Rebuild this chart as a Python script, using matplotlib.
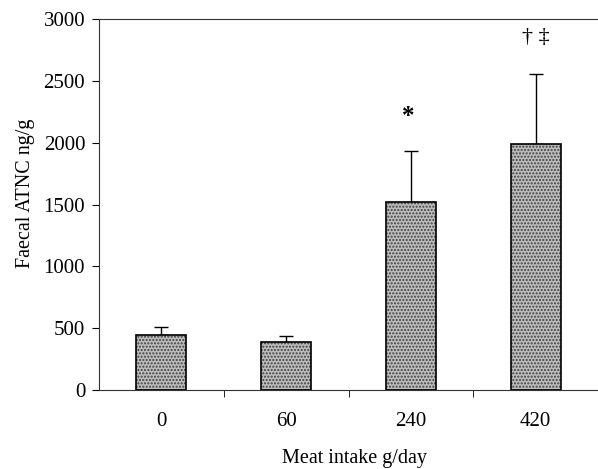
import matplotlib.pyplot as plt
import numpy as np

plt.rcParams['font.family'] = ['Liberation Serif', 'DejaVu Serif']

categories = ['0', '60', '240', '420']
means = [447, 386, 1523, 1987]
errors = [62, 54, 412, 566]
marks = ['', '', '*', '\u2020 \u2021']

fig = plt.figure(figsize=(5.98, 4.69), dpi=100)
ax = fig.add_axes([0.1656, 0.1684, 0.8344, 0.7911])

x = np.arange(len(categories))
ax.bar(x, means, width=0.4, color='#bcbcbc', edgecolor='#404040', hatch='.....', linewidth=0, zorder=2)
ax.bar(x, means, width=0.4, fill=False, edgecolor='black', linewidth=1.2, zorder=3)
ax.errorbar(x, means, yerr=[np.zeros(len(means)), errors], fmt='none', ecolor='black',
            elinewidth=1, capsize=5, capthick=1, zorder=1)

for xi, m, e, t in zip(x, means, errors, marks):
    if t == '*':
        ax.text(xi - 0.02, 2215, t, ha='center', va='center', fontsize=18, fontweight='bold')
    elif t:
        ax.text(xi, 2850, t, ha='center', va='center', fontsize=16)

ax.set_xlim(-0.5, 3.5)
ax.set_ylim(0, 3000)
ax.set_yticks(np.arange(0, 3001, 500))
ax.set_xticks(x)
ax.set_xticklabels(categories)
ax.set_xticks(np.arange(0.5, 3.5, 1), minor=True)
ax.tick_params(axis='x', which='major', length=0, pad=16, labelsize=15)
ax.tick_params(axis='x', which='minor', length=5, direction='out')
ax.tick_params(axis='y', length=5, direction='out', labelsize=15, pad=5)
ax.spines['right'].set_visible(False)
for s in ax.spines.values():
    s.set_color('#333333')
ax.set_xlabel('Meat intake g/day', fontsize=14.5)
ax.set_ylabel('Faecal ATNC ng/g', fontsize=14.5)
ax.xaxis.set_label_coords(0.511, -0.16)
ax.yaxis.set_label_coords(-0.128, 0.53)

fig.savefig('out.png', dpi=100)
